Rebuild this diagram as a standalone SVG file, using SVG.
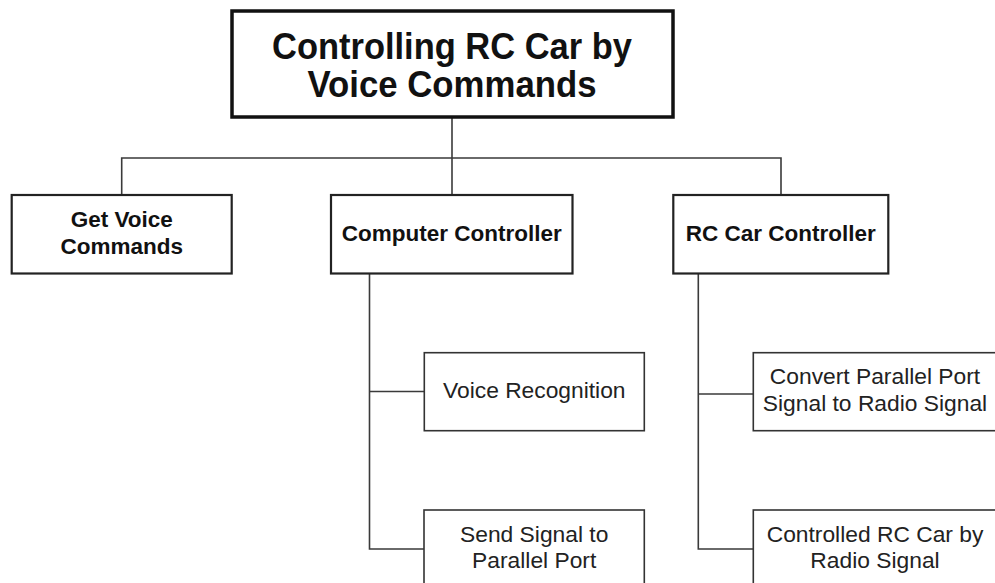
<svg xmlns="http://www.w3.org/2000/svg" width="995" height="583" viewBox="0 0 995 583">
<style>
.bg{fill:#ffffff}
.root{fill:#ffffff;stroke:#111;stroke-width:3.5}
.box1{fill:#ffffff;stroke:#222;stroke-width:2.2}
.box2{fill:#ffffff;stroke:#333;stroke-width:1.6}
.conn{fill:none;stroke:#3a3a3a;stroke-width:1.6}
.t0{font-family:"Liberation Sans",Arial,sans-serif;font-weight:bold;font-size:37px;fill:#111;text-anchor:middle}
.t1{font-family:"Liberation Sans",Arial,sans-serif;font-weight:bold;font-size:22.5px;fill:#111;text-anchor:middle}
.t2{font-family:"Liberation Sans",Arial,sans-serif;font-size:22.8px;fill:#222;text-anchor:middle}
</style>
<rect class="bg" x="0" y="0" width="995" height="583"/>
<g id="connectors">
<path class="conn" d="M452,117 V195"/>
<path class="conn" d="M121.7,195 V158 H781 V195"/>
<path class="conn" d="M369.5,273.5 V549 H424"/>
<path class="conn" d="M369.5,391.5 H424"/>
<path class="conn" d="M698.3,273.5 V549 H753"/>
<path class="conn" d="M698.3,394 H753"/>
</g>
<g id="root">
<rect class="root" x="232" y="11" width="441" height="106"/>
<text class="t0" x="452" y="59" textLength="360" lengthAdjust="spacingAndGlyphs">Controlling RC Car by</text>
<text class="t0" x="452" y="96.5" textLength="289" lengthAdjust="spacingAndGlyphs">Voice Commands</text>
</g>
<g id="get-voice">
<rect class="box1" x="11.7" y="195" width="220" height="78.5"/>
<text class="t1" x="121.7" y="227">Get Voice</text>
<text class="t1" x="121.7" y="253.5">Commands</text>
</g>
<g id="computer-controller">
<rect class="box1" x="331" y="195" width="241.5" height="78.5"/>
<text class="t1" x="451.7" y="240.5">Computer Controller</text>
</g>
<g id="rc-car-controller">
<rect class="box1" x="673.3" y="195" width="215" height="78.5"/>
<text class="t1" x="780.8" y="240.5">RC Car Controller</text>
</g>
<g id="voice-recognition">
<rect class="box2" x="424.3" y="352.7" width="220" height="78"/>
<text class="t2" x="534.3" y="398.3">Voice Recognition</text>
</g>
<g id="send-signal">
<rect class="box2" x="424" y="510" width="220.3" height="90"/>
<text class="t2" x="534.2" y="541.7">Send Signal to</text>
<text class="t2" x="534.2" y="568.3">Parallel Port</text>
</g>
<g id="convert">
<rect class="box2" x="753.3" y="352.7" width="243" height="78"/>
<text class="t2" x="875" y="384">Convert Parallel Port</text>
<text class="t2" x="875" y="410.5">Signal to Radio Signal</text>
</g>
<g id="controlled">
<rect class="box2" x="753.3" y="510" width="243" height="90"/>
<text class="t2" x="875" y="541.7">Controlled RC Car by</text>
<text class="t2" x="875" y="568.3">Radio Signal</text>
</g>
</svg>
